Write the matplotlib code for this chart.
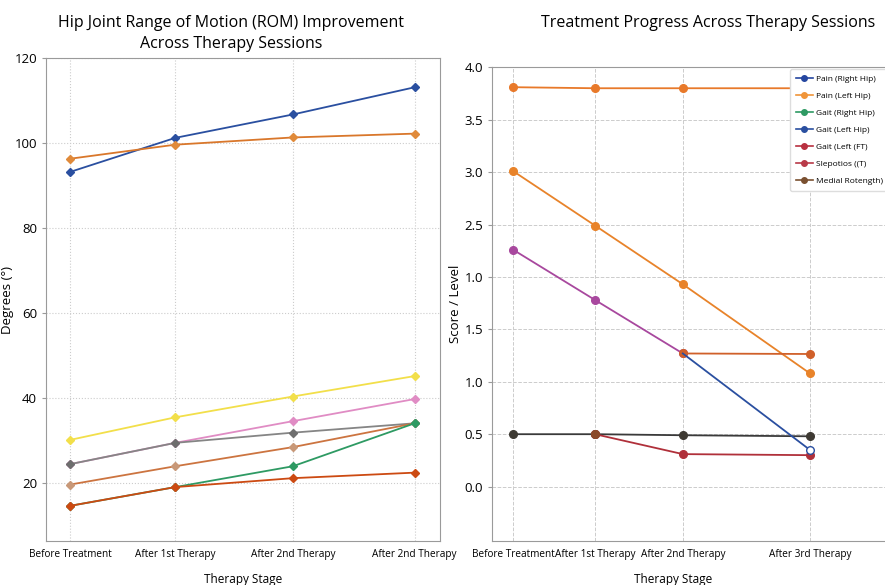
import numpy as np
import matplotlib
matplotlib.use('Agg')
import matplotlib.pyplot as plt
from matplotlib.lines import Line2D

plt.rcParams['font.family'] = ['Open Sans', 'DejaVu Sans']

# ---- left chart data (degrees) ----
left_stages = ['Before Treatment', 'After 1st Therapy', 'After 2nd Therapy', 'After 2nd Therapy']
left_x = [0, 1, 2.12, 3.28]
rom_blue = [93.2, 101.2, 106.7, 113.1]
rom_orange = [96.3, 99.6, 101.3, 102.2]
rom_yellow = [30.2, 35.5, 40.4, 45.2]
rom_pink = [24.5, 29.5, 34.6, 39.8]
rom_gray = [24.5, 29.5, 31.9, 34.1]
rom_peru = [19.7, 24.0, 28.5, 34.1]
rom_green = [14.7, 19.1, 24.0, 34.1]
rom_red = [14.7, 19.1, 21.2, 22.5]

# ---- right chart data (score) ----
right_stages = ['Before Treatment', 'After 1st Therapy', 'After 2nd Therapy', 'After 3rd Therapy']
right_x = [0, 1, 2.07, 3.62]
score_top = [3.81, 3.80, 3.80, 3.80]
score_orange = [3.01, 2.49, 1.93, 1.08]
score_purple = [2.26, 1.78, 1.27, np.nan]
score_blue = [np.nan, np.nan, 1.27, 0.35]
score_choc = [np.nan, np.nan, 1.27, 1.265]
score_dark = [0.50, 0.50, 0.49, 0.48]
score_red = [np.nan, 0.50, 0.31, 0.30]
right_yticks = [0.0, 0.5, 1.0, 1.5, 2.0, 2.5, 3.0, 3.5, 4.0]
right_yticklabels = ['0.0', '0.5', '1.0', '1.5', '1.0', '2.5', '3.0', '3.5', '4.0']

legend_labels = ['Pain (Right Hip)', 'Pain (Left Hip)', 'Gait (Right Hip)', 'Gait (Left Hip)',
                 'Gait (Left (FT)', 'Slepotios ((T)', 'Medial Rotength)']
legend_colors = ['#2546a0', '#f0953a', '#2e9a63', '#2a4fa0', '#b83040', '#b83a48', '#7a5030']

fig = plt.figure(figsize=(8.85, 5.85), dpi=100)
ax1 = fig.add_axes([0.052, 0.075, 0.445, 0.826])
ax2 = fig.add_axes([0.556, 0.075, 0.488, 0.810])

spine_color = '#9a9a9a'
grid_kw = dict(color='#cccccc', linestyle=':', linewidth=0.8)

# left chart
left_series = [
    (rom_blue, '#2a4fa0', '#2a4fa0'),
    (rom_orange, '#d9772b', '#e08a3a'),
    (rom_yellow, '#f2df4a', '#f2df4a'),
    (rom_pink, '#e08cc4', '#e08cc4'),
    (rom_gray, '#858585', '#6e6e6e'),
    (rom_peru, '#cc7440', '#c89878'),
    (rom_green, '#2e9a63', '#2e9a63'),
    (rom_red, '#cc4a12', '#cc4a12'),
]
for vals, c, mc in left_series:
    ax1.plot(left_x, vals, color=c, linewidth=1.3, marker='D', markersize=4.2,
             markerfacecolor=mc, markeredgecolor=mc)

ax1.set_xlim(-0.23, 3.52)
ax1.set_ylim(6.4, 120)
ax1.set_xticks(left_x)
ax1.set_xticklabels(left_stages, fontsize=7.2)
ax1.set_yticks([20, 40, 60, 80, 100, 120])
ax1.tick_params(axis='y', labelsize=9.5, length=3, color=spine_color)
ax1.tick_params(axis='x', length=0, pad=6)
ax1.grid(True, **grid_kw)
ax1.set_xlabel('Therapy Stage', fontsize=8.5, labelpad=9)
ax1.set_ylabel('Degrees (°)', fontsize=9.5, labelpad=0)
ax1.set_title('Hip Joint Range of Motion (ROM) Improvement\nAcross Therapy Sessions',
              fontsize=11.5, pad=7, x=0.47, linespacing=1.45)
for s in ax1.spines.values():
    s.set_color(spine_color)

# right chart
right_series = [
    (score_top, '#e8792a', '#e8792a', 'o'),
    (score_orange, '#e8832a', '#e8832a', 'o'),
    (score_purple, '#a8489e', '#a8489e', 'o'),
    (score_choc, '#d0602a', '#d0602a', 'o'),
    (score_dark, '#3a3a3a', '#3e3a33', 'o'),
    (score_red, '#b0303a', '#b0303a', 'o'),
]
for vals, c, mc, m in right_series:
    ax2.plot(right_x, vals, color=c, linewidth=1.3, marker=m, markersize=5.5,
             markerfacecolor=mc, markeredgecolor=mc)
ax2.plot(right_x, score_blue, color='#2a4fa0', linewidth=1.3, marker='o', markersize=5.5,
         markerfacecolor='white', markeredgecolor='#2a4fa0', markevery=[3])
# brown marker where the red line starts
ax2.plot(right_x[1], score_red[1], marker='o', markersize=5.5, color='#8a4a2a')

ax2.set_xlim(-0.256, 5.01)
ax2.set_ylim(-0.52, 4.0)
ax2.set_xticks(right_x)
ax2.set_xticklabels(right_stages, fontsize=7.2)
ax2.set_yticks(right_yticks)
ax2.set_yticklabels(right_yticklabels)
ax2.tick_params(axis='y', labelsize=9.5, length=3, color=spine_color)
ax2.tick_params(axis='x', length=0, pad=6)
ax2.grid(True, color='#cccccc', linestyle='--', linewidth=0.7)
ax2.set_xlabel('Therapy Stage', fontsize=8.5, labelpad=9, x=0.42)
ax2.set_ylabel('Score / Level', fontsize=9.5, labelpad=2)
ax2.set_title('Treatment Progress Across Therapy Sessions', fontsize=11.5, pad=29, x=0.5)
for s in ax2.spines.values():
    s.set_color(spine_color)

handles = [Line2D([0], [0], color=c, linewidth=1.2, marker='o', markersize=4)
           for c in legend_colors]
leg = ax2.legend(handles, legend_labels, loc='upper left', fontsize=6,
                 bbox_to_anchor=(0.893, 0.882), bbox_transform=fig.transFigure,
                 frameon=True, framealpha=1, edgecolor='#dddddd', handlelength=2.0,
                 handletextpad=0.4, labelspacing=1.1, borderpad=0.7, borderaxespad=0)

plt.savefig('out.png', dpi=100)
plt.close()
